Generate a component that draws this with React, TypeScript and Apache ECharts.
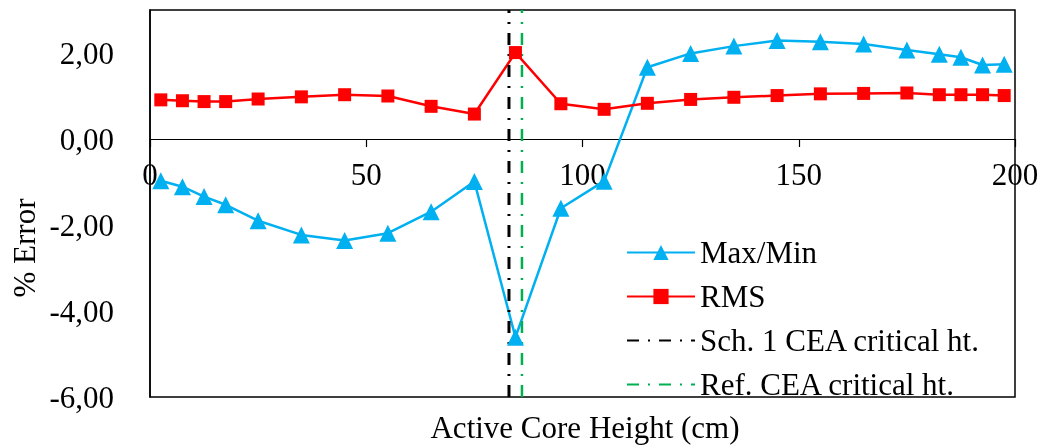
import React, { useEffect, useRef } from "react";
import * as echarts from "echarts";

const heights = [2.5, 7.5, 12.5, 17.5, 25, 35, 45, 55, 65, 75, 84.5, 95, 105, 115, 125, 135, 145, 155, 165, 175, 182.5, 187.5, 192.5, 197.5];
const maxMin = [-0.97, -1.11, -1.34, -1.53, -1.9, -2.23, -2.36, -2.19, -1.69, -0.99, -4.61, -1.61, -0.98, 1.67, 1.99, 2.16, 2.29, 2.26, 2.21, 2.07, 1.97, 1.9, 1.72, 1.74];
const rms = [0.91, 0.89, 0.87, 0.87, 0.93, 0.98, 1.03, 1.0, 0.76, 0.58, 2.01, 0.82, 0.69, 0.83, 0.92, 0.97, 1.01, 1.05, 1.06, 1.07, 1.03, 1.03, 1.03, 1.01];
const sch1CriticalHt = 83;
const refCriticalHt = 86;
const yRange = [-6, 3];
const seriesNames = ["Max/Min", "RMS", "Sch. 1 CEA critical ht.", "Ref. CEA critical ht."];

const FONT = "'Liberation Serif', 'Times New Roman', serif";
const FS = 31;

export default function App() {
  const ref = useRef<HTMLDivElement>(null);
  useEffect(() => {
    if (!ref.current) return;
    const chart = echarts.init(ref.current, null, { renderer: "svg" });
    const dashDot = [12, 9, 2, 9];
    const gridTop = 10;
    const gridBottomPx = 397;
    const zeroPx = gridTop + ((gridBottomPx - gridTop) * (yRange[1] - 0)) / (yRange[1] - yRange[0]);
    chart.setOption({
      animation: false,
      textStyle: { fontFamily: FONT },
      grid: {
        left: 150,
        top: gridTop,
        right: 27,
        bottom: 445 - gridBottomPx,
        show: true,
        borderColor: "#000",
        borderWidth: 1.5,
      },
      xAxis: {
        type: "value",
        min: 0,
        max: 200,
        interval: 50,
        position: "bottom",
        offset: -(gridBottomPx - zeroPx),
        axisLine: { onZero: false, lineStyle: { color: "#000", width: 1.2 } },
        axisTick: { show: true, inside: false, length: 8, lineStyle: { color: "#000", width: 1.2 } },
        axisLabel: { color: "#000", fontSize: FS, fontFamily: FONT, margin: 20, showMinLabel: true, showMaxLabel: true },
        splitLine: { show: false },
      },
      yAxis: {
        type: "value",
        min: yRange[0],
        max: yRange[1],
        interval: 2,
        axisLine: { show: true, lineStyle: { color: "#000", width: 1.5 } },
        axisTick: { show: false },
        splitLine: { show: false },
        axisLabel: {
          color: "#000",
          fontSize: FS,
          fontFamily: FONT,
          margin: 36,
          formatter: (v: number) => (v > 2.5 ? "" : v.toFixed(2).replace(".", ",")),
        },
      },
      legend: {
        orient: "vertical",
        left: 621,
        top: 232,
        itemWidth: 68,
        itemHeight: 19,
        itemGap: 13,
        textStyle: { fontSize: FS, fontFamily: FONT, color: "#000", lineHeight: 31 },
        data: [
          { name: seriesNames[0] },
          { name: seriesNames[1] },
          { name: seriesNames[2], itemStyle: { opacity: 0 } },
          { name: seriesNames[3], itemStyle: { opacity: 0 } },
        ],
      },
      graphic: [
        {
          type: "text",
          x: 24,
          y: 248,
          rotation: Math.PI / 2,
          style: { text: "% Error", fontSize: FS, fontFamily: FONT, fill: "#000", align: "center", verticalAlign: "middle" },
        },
        {
          type: "text",
          x: 585,
          y: 427,
          style: { text: "Active Core Height (cm)", fontSize: FS, fontFamily: FONT, fill: "#000", align: "center", verticalAlign: "middle" },
        },
      ],
      series: [
        {
          name: seriesNames[0],
          type: "line",
          data: heights.map((h, i) => [h, maxMin[i]]),
          symbol: "triangle",
          symbolSize: 17,
          color: "#00B0F0",
          lineStyle: { width: 2.5, color: "#00B0F0" },
          itemStyle: { color: "#00B0F0" },
        },
        {
          name: seriesNames[1],
          type: "line",
          data: heights.map((h, i) => [h, rms[i]]),
          symbol: "rect",
          symbolSize: 13,
          color: "#FF0000",
          lineStyle: { width: 2.5, color: "#FF0000" },
          itemStyle: { color: "#FF0000" },
        },
        {
          name: seriesNames[2],
          type: "line",
          data: [[sch1CriticalHt, yRange[0]], [sch1CriticalHt, yRange[1]]],
          symbol: "none",
          color: "#000",
          lineStyle: { width: 3, color: "#000", type: dashDot },
        },
        {
          name: seriesNames[3],
          type: "line",
          data: [[refCriticalHt, yRange[0]], [refCriticalHt, yRange[1]]],
          symbol: "none",
          color: "#00B050",
          lineStyle: { width: 2.5, color: "#00B050", type: dashDot },
        },
      ],
    });
    return () => chart.dispose();
  }, []);
  return <div ref={ref} style={{ position: "fixed", left: 0, top: 0, width: 1042, height: 445 }} />;
}
